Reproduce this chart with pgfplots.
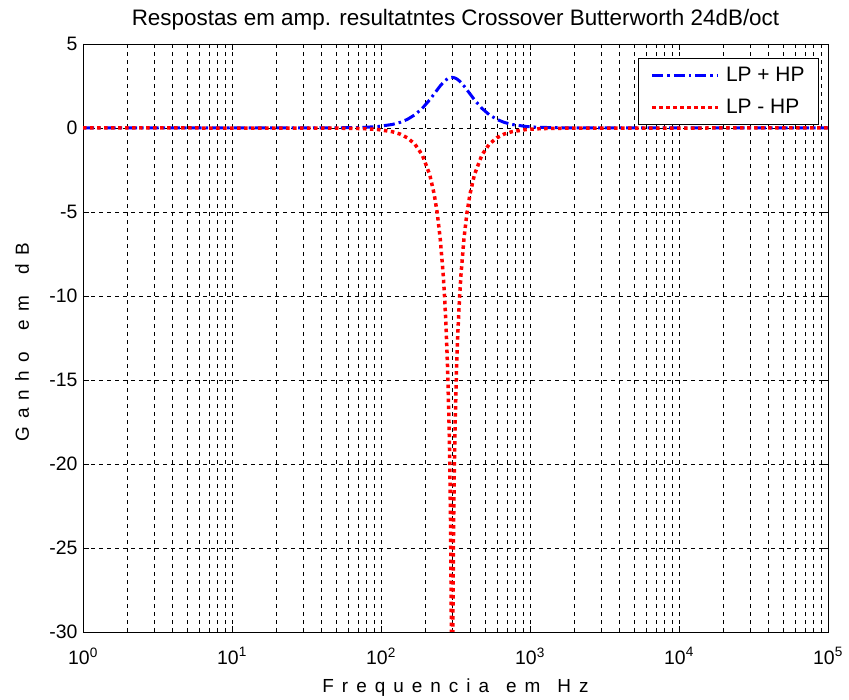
\documentclass[border=0pt]{standalone}
\usepackage{pgfplots}
\pgfplotsset{compat=1.18}
\usepackage{fontspec}
\setmainfont{Liberation Sans}

% Summed and differenced responses of a 4th-order Butterworth crossover at 300 Hz
\pgfplotstableread{
f       sum
1       0
30      0.0009
47.55   0.0055
75.36   0.0344
94.87   0.0860
119.43  0.2127
134.04  0.3322
150.36  0.5142
168.70  0.7847
189.29  1.1701
212.38  1.6808
227.57  2.0326
238.30  2.2719
249.53  2.5014
261.29  2.7058
267.38  2.7934
273.60  2.8685
279.97  2.9293
286.49  2.9738
293.16  3.0011
300     3.0103
306.99  3.0011
314.14  2.9738
321.45  2.9293
328.94  2.8685
336.61  2.7934
344.45  2.7058
360.69  2.5014
377.68  2.2719
395.48  2.0326
423.76  1.6808
475.47  1.1701
533.49  0.7847
598.58  0.5142
671.62  0.3322
753.57  0.2127
948.68  0.0860
1194.3  0.0344
1892.9  0.0055
3000    0.0009
100000  0
}\sumtable

\pgfplotstableread{
f       diff
1       0
30      -0.0009
47.55   -0.0055
75.36   -0.0347
94.87   -0.0877
119.43  -0.2237
134.04  -0.3597
150.36  -0.5834
168.70  -0.9583
189.29  -1.6066
212.38  -2.7783
227.57  -3.9451
238.30  -5.0482
249.53  -6.5529
261.29  -8.6834
267.38  -10.1138
273.60  -11.9227
279.97  -14.3185
286.49  -17.7652
289.81  -20.2374
293.16  -23.7401
296.56  -29.7493
297.93  -34.18
299.31  -43.72
300.69  -43.72
302.08  -34.18
303.47  -29.7493
306.99  -23.7401
310.56  -20.2374
314.14  -17.7652
321.45  -14.3185
328.94  -11.9227
336.61  -10.1138
344.45  -8.6834
360.69  -6.5529
377.68  -5.0482
395.48  -3.9451
423.76  -2.7783
475.47  -1.6066
533.49  -0.9583
598.58  -0.5834
671.62  -0.3597
753.57  -0.2237
948.68  -0.0877
1194.3  -0.0347
1892.9  -0.0055
3000    -0.0009
100000  0
}\difftable

% letter-spaced axis labels
\newcommand\lx{\hspace{8bp}}
\newcommand\wx{\hspace{17bp}}
\newcommand\ly{\hspace{8bp}}
\newcommand\wy{\hspace{22bp}}

\begin{document}
\begin{tikzpicture}
\useasboundingbox (0,0) rectangle (849bp,700bp);
\begin{axis}[
  at={(83bp,68bp)}, anchor=south west,
  width=745bp, height=588bp, scale only axis,
  xmode=log, xmin=1, xmax=100000,
  ymin=-30, ymax=5,
  ytick={-30,-25,...,5},
  minor y tick num=0,
  xtick={1,10,100,1000,10000,100000},
  xticklabels={10\textsuperscript{0},10\textsuperscript{1},10\textsuperscript{2},10\textsuperscript{3},10\textsuperscript{4},10\textsuperscript{5}},
  /pgf/number format/assume math mode=true,
  tick label style={font=\fontsize{19.5}{22}\selectfont},
  xticklabel style={yshift=-12bp},
  yticklabel style={xshift=-2bp},
  tick align=inside,
  major tick length=6bp, minor tick length=3.5bp,
  every tick/.style={black, line width=0.8bp},
  axis line style={black, line width=0.9bp},
  grid=both,
  major grid style={black, line width=0.75bp, dash pattern=on 4bp off 4bp},
  minor grid style={black, line width=0.75bp, dash pattern=on 4bp off 4bp},
  title={Respostas em amp. resultatntes Crossover Butterworth 24dB/oct},
  title style={at={(axis description cs:0.5,1.031)}, anchor=center, font=\fontsize{22.5}{26}\selectfont},
  xlabel={F\lx r\lx e\lx q\lx u\lx e\lx n\lx c\lx i\lx a\wx e\lx m\wx H\lx z},
  xlabel style={at={(axis description cs:0.5,-0.0952)}, anchor=center, font=\fontsize{19}{22}\selectfont},
  ylabel={G\ly a\ly n\ly h\ly o\wy e\ly m\wy d\ly B},
  ylabel style={at={(axis description cs:-0.0819,0.493)}, anchor=center, font=\fontsize{19}{22}\selectfont},
  legend style={at={(1,1)}, anchor=north east, xshift=-9bp, yshift=-14bp,
    draw=black, line width=0.9bp, fill=white,
    font=\fontsize{21}{25}\selectfont, inner xsep=12bp, inner ysep=7bp,
    row sep=12bp, column sep=4bp},
  legend cell align=left,
  legend image code/.code={\draw[#1] (0bp,0bp) -- (66bp,0bp);},
]
\addplot[blue, line width=3bp, dash pattern=on 11bp off 4bp on 2.5bp off 4bp] table[x=f, y=sum] {\sumtable};
\addlegendentry{LP + HP}
\addplot[red, line width=3.5bp, dash pattern=on 3.5bp off 3.5bp] table[x=f, y=diff] {\difftable};
\addlegendentry{LP - HP}
\end{axis}
\end{tikzpicture}
\end{document}
